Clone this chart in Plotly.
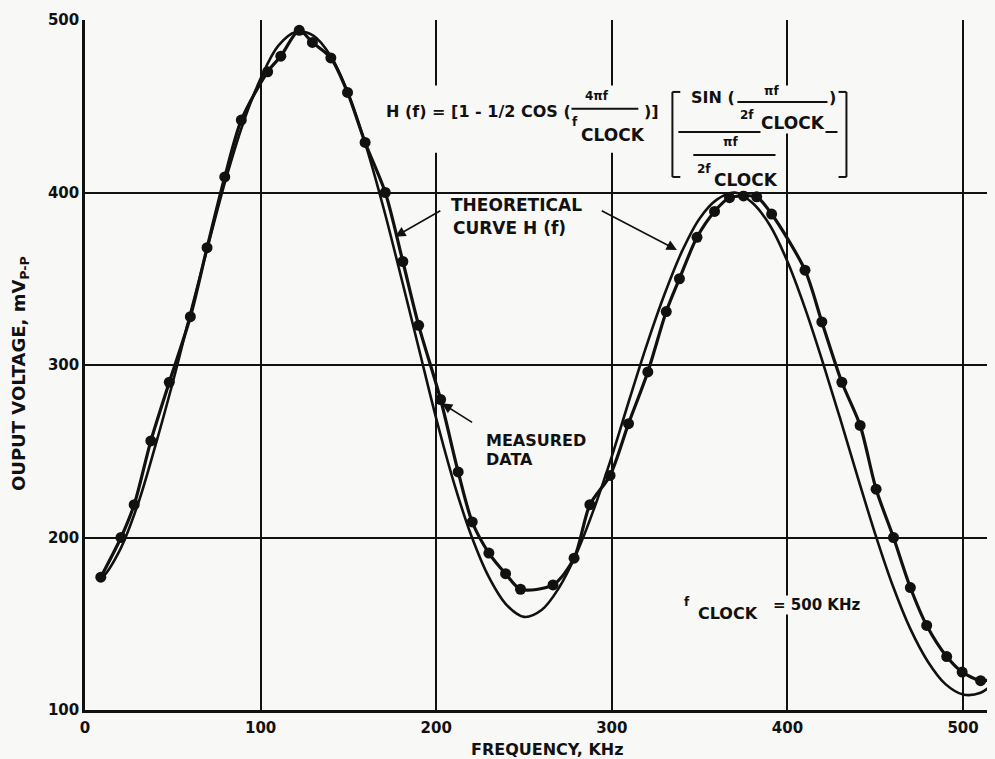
import plotly.graph_objects as go

# ---- data ----
meas_f = [9, 20.5, 28, 37.5, 48, 60, 69.5, 79.6, 89, 104, 111.5, 122, 129.5, 140,
          149.5, 159.5, 171, 181, 190, 202.5, 212.5, 220.5, 230, 239.5, 248, 266.5,
          278.5, 287.5, 299, 309.5, 320.5, 331, 338.5, 348.5, 358.5, 367, 375, 382.5,
          391, 410, 419.6, 431, 441.4, 450.5, 460.4, 470, 479.3, 490.7, 499.5, 510, 517]
meas_v = [177, 200, 219, 256, 290, 328, 368, 409, 442, 470, 479, 494, 487, 478,
          458, 429, 400, 360, 323, 280, 238, 209, 191, 179, 170, 172.5,
          188, 219, 236, 266, 296, 331, 350, 374, 389, 397, 398, 397.5,
          387.5, 355, 325, 290, 265, 228, 200, 171, 149, 131, 122, 117, 118]

theo_f = [8, 10, 20, 30, 40, 50, 60, 70, 80, 90, 100, 110, 120, 130, 140, 150, 160,
          170, 180, 190, 200, 210, 220, 230, 240, 250, 260, 270, 280, 290, 300, 310,
          320, 330, 340, 350, 360, 370, 380, 390, 400, 410, 420, 430, 440, 450, 460,
          470, 480, 490, 500, 510, 518]
theo_v = [176, 177, 193, 219, 253, 290, 330, 369, 407, 440, 466, 485, 493, 491, 479,
          457, 427, 391, 351, 310, 269, 232, 201, 177, 161, 154, 158, 171, 191, 217,
          247, 280, 312, 341, 366, 385, 396, 400, 394, 381, 360, 333, 302, 269, 235,
          202, 172, 147, 128, 115, 109, 110, 116]

x_ticks = [0, 100, 200, 300, 400, 500]
y_ticks = [100, 200, 300, 400, 500]

BG = "#f8f8f6"
INK = "#111111"
FONT = "DejaVu Sans"

fig = go.Figure()
fig.add_trace(go.Scatter(x=theo_f, y=theo_v, mode="lines",
                         line=dict(color=INK, width=2.6, shape="spline", smoothing=1.0),
                         hoverinfo="skip", showlegend=False))
fig.add_trace(go.Scatter(x=meas_f, y=meas_v, mode="lines+markers",
                         line=dict(color=INK, width=3.2, shape="spline", smoothing=0.8),
                         marker=dict(color=INK, size=11),
                         showlegend=False))

def txt(x, y, s, size=16, xanchor="center", yanchor="middle", bg=True):
    return dict(x=x, y=y, xref="x", yref="y", text=s, showarrow=False,
                xanchor=xanchor, yanchor=yanchor,
                font=dict(family=FONT, size=size, color=INK, weight="bold"),
                bgcolor=BG if bg else None, borderpad=0)

def arrow(xt, yt, xtail, ytail):
    return dict(x=xt, y=yt, ax=xtail, ay=ytail, xref="x", yref="y", axref="x", ayref="y",
                text="", showarrow=True, arrowhead=2, arrowsize=1.3, arrowwidth=1.6,
                arrowcolor=INK, standoff=0, startstandoff=0)

ann = []
# formula
ann.append(txt(170.9, 447.2, "H (f) = [1 - 1/2 COS (", 16, "left"))
ann.append(txt(291.7, 456.0, "4πf", 12))
ann.append(txt(322.5, 447.2, ")]", 16))
ann.append(txt(279.0, 440.8, "f", 12, bg=False))
ann.append(txt(300.5, 433.3, "CLOCK", 17))
ann.append(txt(357.8, 454.8, "SIN (", 16))
ann.append(txt(390.9, 458.6, "πf", 12))
ann.append(txt(425.6, 454.8, ")", 16))
ann.append(txt(377.2, 445.2, "2f", 12))
ann.append(txt(403.4, 440.3, "CLOCK", 17))
ann.append(txt(367.5, 429.0, "πf", 12))
ann.append(txt(352.7, 413.4, "2f", 12))
ann.append(txt(376.6, 407.4, "CLOCK", 17))
# labels
ann.append(txt(208.0, 392.8, "THEORETICAL", 17, "left"))
ann.append(txt(209.0, 379.4, "CURVE H (f)", 17, "left"))
ann.append(arrow(176.6, 374.4, 203.2, 389.9))
ann.append(arrow(337.1, 366.7, 293.4, 389.9))
ann.append(txt(228.0, 256.5, "MEASURED", 16, "left"))
ann.append(txt(228.0, 245.0, "DATA", 16, "left"))
ann.append(arrow(203.2, 277.8, 221.3, 266.2))
ann.append(txt(343.0, 162.6, "f", 12, bg=False))
ann.append(txt(366.1, 156.2, "CLOCK", 16))
ann.append(txt(391.0, 161.0, "= 500 KHz", 15, "left"))
# axis titles
ann.append(dict(x=0.5077, y=-0.0572, xref="paper", yref="paper", showarrow=False,
                text="FREQUENCY, KHz", xanchor="center", yanchor="middle",
                font=dict(family=FONT, size=16, color=INK, weight="bold")))
ann.append(dict(x=-0.0714, y=0.487, xref="paper", yref="paper", showarrow=False,
                text="OUPUT VOLTAGE, mV<sub>P-P</sub>", textangle=-90,
                xanchor="center", yanchor="middle",
                font=dict(family=FONT, size=18, color=INK, weight="bold")))

shapes = []
# paper-coloured patches behind the formula (gridlines are interrupted there)
shapes.append(dict(type="rect", xref="x", yref="y", x0=168, x1=326, y0=423, y1=462,
                   fillcolor=BG, line=dict(width=0), layer="between"))
shapes.append(dict(type="rect", xref="x", yref="y", x0=330, x1=437, y0=434.5, y1=462,
                   fillcolor=BG, line=dict(width=0), layer="between"))

def seg(x0, y0, x1, y1, w=2):
    shapes.append(dict(type="line", xref="x", yref="y", x0=x0, y0=y0, x1=x1, y1=y1,
                       line=dict(color=INK, width=w), layer="above"))
seg(276.4, 448.6, 315.1, 448.6)          # 4πf / fCLOCK
seg(371.5, 452.5, 422.8, 452.5)          # πf / 2fCLOCK
seg(337.9, 435.1, 428.5, 435.1)          # main fraction bar
seg(346.4, 421.7, 393.2, 421.7)          # lower πf / 2fCLOCK
# brackets
seg(334.5, 458.3, 334.5, 409.0); seg(334.5, 458.3, 339.0, 458.3); seg(334.5, 409.0, 339.0, 409.0)
seg(433.6, 458.3, 433.6, 409.0); seg(433.6, 458.3, 429.1, 458.3); seg(433.6, 409.0, 429.1, 409.0)

fig.update_layout(
    width=987, height=751,
    margin=dict(l=77, r=0, t=12, b=49),
    paper_bgcolor=BG, plot_bgcolor=BG,
    font=dict(family=FONT, color=INK, weight="bold"),
    annotations=ann, shapes=shapes,
    xaxis=dict(range=[0, 518.2], tickvals=x_ticks, ticktext=[str(v) for v in x_ticks],
               showgrid=True, gridcolor=INK, gridwidth=2, zeroline=False,
               showline=True, linecolor=INK, linewidth=2.5, ticks="",
               tickfont=dict(family=FONT, size=15, color=INK, weight="bold"),
               ticklabelstandoff=2),
    yaxis=dict(range=[100, 500], tickvals=y_ticks, ticktext=[str(v) for v in y_ticks],
               showgrid=True, gridcolor=INK, gridwidth=2, zeroline=False,
               showline=True, linecolor=INK, linewidth=2.5, ticks="",
               tickfont=dict(family=FONT, size=15, color=INK, weight="bold"),
               ticklabelstandoff=0),
)

fig.write_html("out.html", post_script="document.body.style.background='%s';" % BG)
